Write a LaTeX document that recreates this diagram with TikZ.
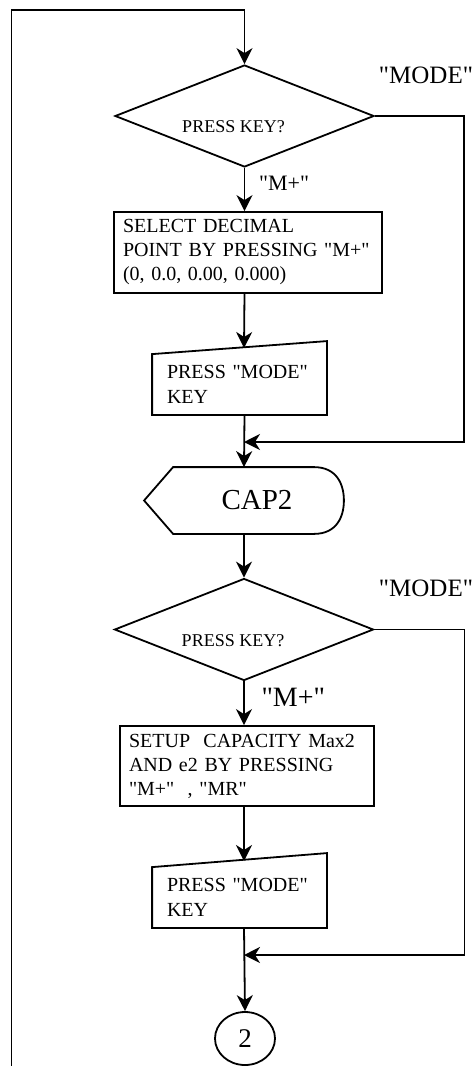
\documentclass[tikz,border=0pt]{standalone}
\usepackage{fontspec}
\setmainfont{Liberation Serif}[Ligatures=TeXOff]
\usetikzlibrary{shapes.geometric, arrows.meta, positioning}

\begin{document}
\begin{tikzpicture}[
        x=0.5pt, y=-0.5pt, % Одна единица = один пиксель, ось y вниз
        line width=0.9pt,
        strel/.style = {draw, -{Stealth[length=8pt, width=8pt, inset=2.5pt]}}, % Стрелки
        razv/.style = {diamond, draw, inner sep=0pt, minimum width=129.5pt, minimum height=51pt}, % Условие
        dtekst/.style = {font=\fontsize{9}{11}\selectfont, xshift=-5.5pt, yshift=-5.5pt}, % Текст в ромбе
        blok/.style = {rectangle, draw, align=left, inner xsep=4.5pt, font=\fontsize{10}{12}\selectfont}, % Процесс
        vvod/.style = {rectangle, align=left, inner xsep=7pt, minimum width=86.5pt, minimum height=29.5pt,
                text width=72.5pt, font=\fontsize{10}{12.5}\selectfont}, % Ручной ввод
        disp/.style = {rectangle, inner sep=0pt, minimum width=99pt, minimum height=32.5pt,
                font=\fontsize{14.5}{17}\selectfont}, % Отображение
        kon/.style = {ellipse, draw, inner sep=0pt, minimum width=30pt, minimum height=26.5pt,
                font=\fontsize{13.5}{16}\selectfont}, % Соединитель
        metka/.style = {font=\fontsize{12.5}{15}\selectfont}, % Подписи веток
    ]
    \useasboundingbox (0,0) rectangle (475,1066);

    % Первая часть
    \node[razv, label={[dtekst]center:PRESS KEY?}] (key1) at (244.5,116) {};
    \node[blok, text width=125pt, minimum height=40.5pt] (blok1) at (248,252.5)
        {SELECT DECIMAL\\POINT BY PRESSING "M+"\\(0, 0.0, 0.00, 0.000)};
    \node[vvod] (vvod1) at (239.5,384.5) {PRESS "MODE"\\KEY};
    \draw (vvod1.south west) -- (vvod1.south east) -- ([yshift=6.5pt]vvod1.north east) -- (vvod1.north west) -- cycle;
    \coordinate (v1top) at (244,348);
    \coordinate (sl1) at (244,442);

    \node[disp] (cap) at (244,500.5) {\hspace*{13pt}CAP2};
    \draw (cap.west) -- ([xshift=14.5pt]cap.north west) -- ([xshift=-15pt]cap.north east)
        .. controls ([xshift=-3.5pt]cap.north east) and ([yshift=8pt]cap.east) .. (cap.east)
        .. controls ([yshift=-8pt]cap.east) and ([xshift=-3.5pt]cap.south east) .. ([xshift=-15pt]cap.south east)
        -- ([xshift=14.5pt]cap.south west) -- cycle;

    % Вторая часть
    \node[razv, label={[dtekst]center:PRESS KEY?}] (key2) at (244,629.5) {};
    \node[blok, text width=118pt, minimum height=40pt] (blok2) at (247,766)
        {SETUP\ \ CAPACITY Max2\\AND e2 BY PRESSING\\"M+"\ \ , "MR"};
    \node[vvod] (vvod2) at (239.5,897.5) {PRESS "MODE"\\KEY};
    \draw (vvod2.south west) -- (vvod2.south east) -- ([yshift=7pt]vvod2.north east) -- (vvod2.north west) -- cycle;
    \coordinate (v2top) at (244,861);
    \coordinate (sl2) at (244,955);
    \node[kon] (kon) at (245,1038.5) {2};

    % Возврат наверх
    \coordinate (niz) at (11.5,1066);
    \coordinate (verh) at (244.5,10);
    \draw[strel] (niz) |- (verh) -- (key1.north);

    % Связи
    \draw[strel] (key1.south) -- node[metka, font=\fontsize{11}{13}\selectfont, right, xshift=3.5pt, yshift=3pt] {"M+"} (key1.south |- blok1.north);
    \draw[strel] (key1.south |- blok1.south) -- (v1top);
    \draw[strel] (vvod1.south -| key1.south) -- (cap.north);
    \draw[strel] (key1.east) -- ++(89,0) |- (sl1);
    \node[metka] (mode1) at (426,75) {"MODE"};

    \draw[strel] (cap.south) -- (key2.north);
    \draw[strel] (key2.south) -- node[metka, font=\fontsize{14}{16}\selectfont, right, xshift=5pt, yshift=2.75pt] {"M+"} (key2.south |- blok2.north);
    \draw[strel] (key2.south |- blok2.south) -- (v2top);
    \draw[strel] (vvod2.south -| key2.south) -- (kon.north);
    \draw[strel] (key2.east) -- ++(90,0) |- (sl2);
    \node[metka] (mode2) at (426,588) {"MODE"};
\end{tikzpicture}
\end{document}
